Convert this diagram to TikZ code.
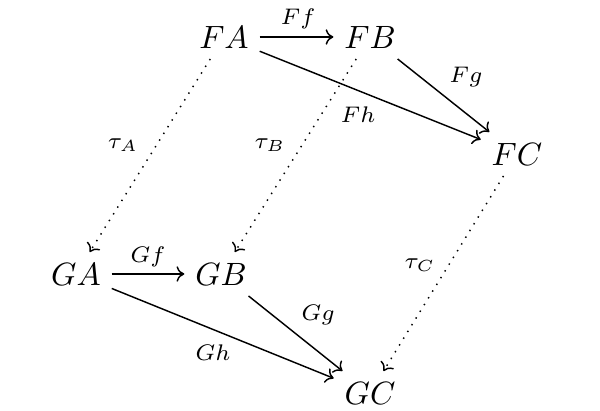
\documentclass[tikz,border=0pt]{standalone}
\usetikzlibrary{arrows.meta}
\begin{document}
\begin{tikzpicture}[x=0.31pt,y=-0.31pt,
  obj/.style={inner sep=3.2pt},
  arr/.style={-{To[length=2.4pt,width=4.8pt]}, line width=0.45pt},
  nat/.style={arr, dotted},
  lab/.style={font=\scriptsize, inner sep=1pt}]
\useasboundingbox (0,0) rectangle (600,411);
\node[obj] (FA) at (224,37) {$FA$};
\node[obj] (FB) at (370,37) {$FB$};
\node[obj] (FC) at (517,154) {$FC$};
\node[obj] (GA) at (76,274) {$GA$};
\node[obj] (GB) at (221,274) {$GB$};
\node[obj] (GC) at (370,393) {$GC$};
\draw[arr] (FA) -- (FB);
\draw[arr] (FB) -- (FC);
\draw[arr] (FA) -- (FC);
\draw[arr] (GA) -- (GB);
\draw[arr] (GB) -- (GC);
\draw[arr] (GA) -- (GC);
\draw[nat] (FA) -- (GA);
\draw[nat] (FB) -- (GB);
\draw[nat] (FC) -- (GC);
\node[lab] (lFf) at (298,19) {$Ff$};
\node[lab] (lFg) at (466,77) {$Fg$};
\node[lab] (lFh) at (358,115) {$Fh$};
\node[lab] (ltA) at (123,145) {$\tau_A$};
\node[lab] (ltB) at (270,145) {$\tau_B$};
\node[lab] (ltC) at (420,265) {$\tau_C$};
\node[lab] (lGf) at (148,257) {$Gf$};
\node[lab] (lGg) at (318,315) {$Gg$};
\node[lab] (lGh) at (213,353) {$Gh$};
\end{tikzpicture}
\end{document}
